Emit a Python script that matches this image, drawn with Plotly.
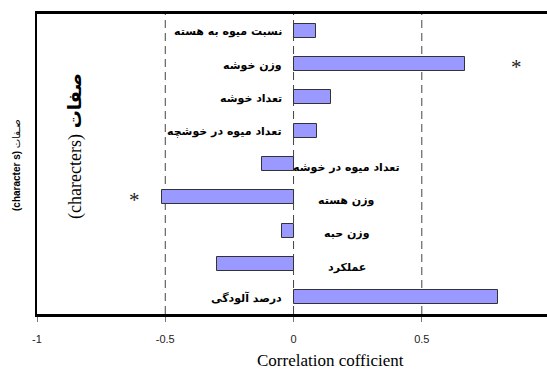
import plotly.graph_objects as go

# Traits (top to bottom) and their correlation coefficients
traits = [
    "نسبت میوه به هسته",
    "وزن خوشه",
    "تعداد خوشه",
    "تعداد میوه در خوشچه",
    "تعداد میوه در خوشه",
    "وزن هسته",
    "وزن حبه",
    "عملکرد",
    "درصد آلودگی",
]
corr = [0.088, 0.668, 0.147, 0.091, -0.123, -0.511, -0.045, -0.298, 0.798]
significant = [False, True, False, False, False, True, False, False, False]
x_ticks = [-1, -0.5, 0, 0.5]

pos = list(range(len(traits)))

fig = go.Figure()
fig.add_trace(go.Bar(
    x=corr, y=pos, orientation="h", width=0.42,
    marker=dict(color="#9999FF", line=dict(color="#333333", width=1)),
    showlegend=False, hoverinfo="skip",
))

# Dashed reference lines
for v in x_ticks[1:]:
    fig.add_shape(type="line", xref="x", yref="paper", x0=v, x1=v, y0=0, y1=1,
                  line=dict(color="#444444", width=1, dash="8px,5px"), layer="below")

ann = []
persian_font = dict(family="DejaVu Sans", size=11, color="black")
for i, (name, v) in enumerate(zip(traits, corr)):
    if v >= 0:
        ann.append(dict(x=0, y=i, xref="x", yref="y", text="<b>%s</b>" % name,
                        xanchor="right", yanchor="middle", xshift=-10, yshift=-1,
                        showarrow=False, font=persian_font))
    else:
        ann.append(dict(x=0, y=i, xref="x", yref="y", text="<b>%s</b>" % name,
                        xanchor="center", yanchor="middle", xshift=53, yshift=-3,
                        showarrow=False, font=persian_font))
    if significant[i]:
        sx = v + 0.2 if v > 0 else v - 0.11
        ann.append(dict(x=sx, y=i, xref="x", yref="y", text="*",
                        xanchor="center", yanchor="middle", yshift=-3, showarrow=False,
                        font=dict(family="Liberation Serif", size=21, color="#222222")))

# Axis title
ann.append(dict(xref="paper", yref="paper", x=(330 - 37) / 510, y=-(360 - 314) / 300,
                xanchor="center", yanchor="middle", showarrow=False,
                text="Correlation cofficient",
                font=dict(family="Liberation Serif", size=17, color="black")))

# Vertical labels
ann.append(dict(xref="paper", yref="paper", x=(75 - 37) / 510, y=(314 - 146) / 300,
                textangle=-90, showarrow=False, xanchor="center", yanchor="middle",
                text='<span style="font-family:Liberation Serif">(charecters)</span> '
                     '<b>صفات</b>',
                font=dict(family="DejaVu Sans", size=18, color="black")))
ann.append(dict(xref="paper", yref="paper", x=(16 - 37) / 510, y=(314 - 165) / 300,
                textangle=-90, showarrow=False, xanchor="center", yanchor="middle",
                text='<b>(character s)</b> <span style="font-family:DejaVu Sans">صـفات</span>',
                font=dict(family="Liberation Sans", size=10, color="black")))

fig.update_layout(
    width=547, height=372,
    margin=dict(l=37, r=0, t=14, b=58),
    plot_bgcolor="white", paper_bgcolor="white",
    bargap=0,
    annotations=ann,
    xaxis=dict(range=[-1, 0.988], tickvals=x_ticks, ticktext=["-1", "-0.5", "0", "0.5"],
               showgrid=False, zeroline=False, showline=True, mirror=True,
               linecolor="black", linewidth=2.5, ticks="outside", ticklen=5,
               tickcolor="#777777", tickwidth=1, ticklabelstandoff=8,
               tickfont=dict(family="Liberation Sans", size=11, color="#222222")),
    yaxis=dict(range=[8.5, -0.5], showticklabels=False, showgrid=False, zeroline=False,
               showline=True, linecolor="black", linewidth=2, ticks=""),
)

fig.write_html("out.html")
